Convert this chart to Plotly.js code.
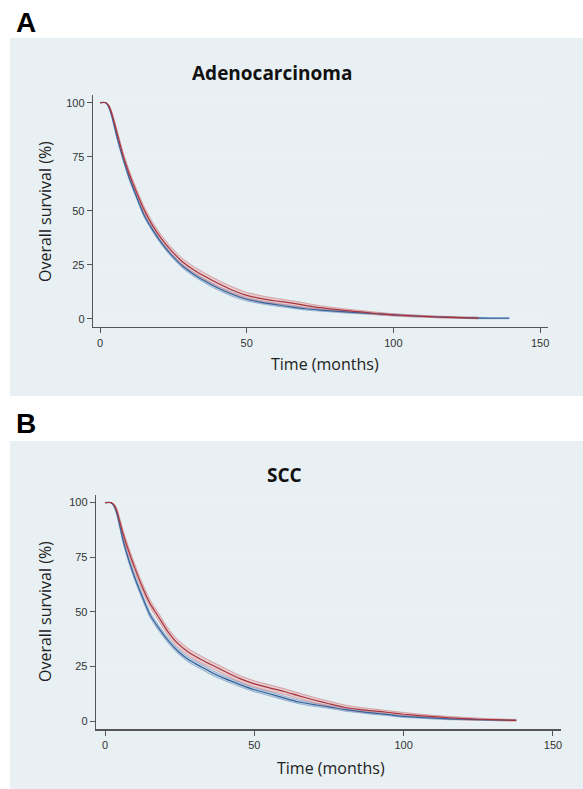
<!DOCTYPE html>
<html>
<head>
<meta charset="utf-8">
<script src="https://cdn.plot.ly/plotly-3.0.1.min.js"></script>
<style>html,body{margin:0;padding:0;background:#fff;}#chart{width:583px;height:789px;}</style>
</head>
<body>
<div id="chart"></div>
<script>
// ---- Panel A: Adenocarcinoma ----
const monthsA = [0,2,3,4,6,8,10,12,15,18,21,24,28,32,36,40,45,50,55,60,65,70,75,80,85,90,95,100,105,110,115,120,125,129];
const redA   = [100,100,98.5,95,85,75,67,60,50.5,43,37,32,26.5,22.6,19.4,16.5,13.3,10.8,9.3,8.2,7.3,6.2,5.1,4.3,3.6,3.0,2.3,1.8,1.4,1.1,0.8,0.6,0.4,0.3];
const redAHi = [100,100,99,96,86.4,76.5,68.5,61.5,52,44.5,38.5,33.5,28,24.1,20.9,18,14.8,12.2,10.6,9.4,8.4,7.2,6.0,5.1,4.3,3.6,2.9,2.3,1.9,1.5,1.2,1.0,0.8,0.7];
const redALo = [100,100,98,94,83.6,73.5,65.5,58.5,49,41.5,35.5,30.5,25,21.1,17.9,15,11.8,9.4,8.0,7.0,6.2,5.2,4.2,3.5,2.9,2.4,1.7,1.3,0.9,0.7,0.4,0.2,0.1,0.0];
const monthsABlue = [0,2,3,4,6,8,10,12,15,18,21,24,28,32,36,40,45,50,55,60,65,70,75,80,85,90,95,100,105,110,115,120,125,129,133,139.5];
const blueA   = [100,100,98,94,83,73.5,65,58,48,41,35,30,24.5,20.5,17.2,14.3,11.3,9.0,7.6,6.5,5.5,4.6,4.0,3.5,3.0,2.6,2.2,1.8,1.4,1.1,0.8,0.6,0.4,0.3,0.2,0.2];
const blueAHi = [100,100,98.5,94.9,83.9,74.4,65.9,58.9,48.9,41.9,35.9,30.9,25.4,21.4,18.1,15.2,12.2,9.8,8.3,7.2,6.1,5.2,4.5,4.0,3.5,3.0,2.6,2.2,1.8,1.4,1.1,0.9,0.7,0.6,0.5,0.5];
const blueALo = [100,100,97.5,93.1,82.1,72.6,64.1,57.1,47.1,40.1,34.1,29.1,23.6,19.6,16.3,13.4,10.4,8.2,6.9,5.8,4.9,4.0,3.5,3.0,2.5,2.2,1.8,1.4,1.0,0.8,0.5,0.3,0.1,0.0,0.0,0.0];

// ---- Panel B: SCC ----
const monthsB = [0,2,3,4,6,8,10,12,15,18,21,24,28,32,36,40,45,50,55,60,65,70,75,80,85,90,95,100,105,110,115,120,125,130,135,137.7];
const redB   = [100,100,99,96,86,77.5,70,63,54,47.5,41,36,31.5,28.3,25.5,22.8,19.5,17,15.2,13.5,11.5,9.6,7.9,6.3,5.3,4.6,3.9,3.1,2.5,2.0,1.5,1.1,0.8,0.6,0.4,0.3];
const redBHi = [100,100,99.5,97.2,87.6,79.2,71.7,64.7,55.7,49.2,42.7,37.7,33.1,29.9,27.0,24.3,20.9,18.4,16.6,14.8,12.8,10.8,9.1,7.4,6.3,5.5,4.7,3.9,3.2,2.6,2.1,1.7,1.3,1.0,0.8,0.7];
const redBLo = [100,100,98.5,94.8,84.4,75.8,68.3,61.3,52.3,45.8,39.3,34.3,29.9,26.7,24.0,21.3,18.1,15.6,13.8,12.2,10.2,8.4,6.7,5.2,4.3,3.7,3.1,2.3,1.8,1.4,0.9,0.5,0.3,0.2,0.0,0.0];
const blueB   = [100,100,98.5,95,83,73.5,65.5,58.5,48.8,42.5,37,32.5,28,25,22,19.5,16.8,14.3,12.5,10.5,8.7,7.5,6.5,5.3,4.4,3.6,2.9,2.1,1.7,1.3,1.0,0.8,0.6,0.45,0.35,0.3];
const blueBHi = [100,100,99,96,84.2,74.7,66.7,59.7,50,43.7,38.1,33.6,29.1,26.1,23.1,20.5,17.8,15.2,13.4,11.4,9.5,8.3,7.2,6.0,5.0,4.2,3.4,2.6,2.1,1.7,1.4,1.1,0.9,0.7,0.6,0.5];
const blueBLo = [100,100,98,94,81.8,72.3,64.3,57.3,47.6,41.3,35.9,31.4,26.9,23.9,20.9,18.5,15.8,13.4,11.6,9.6,7.9,6.7,5.8,4.6,3.8,3.0,2.4,1.6,1.3,0.9,0.6,0.5,0.3,0.2,0.1,0.1];

const xTicks = [0,50,100,150];
const yTicks = [0,25,50,75,100];
const panelTitles = ["Adenocarcinoma","SCC"];
const panelLetters = ["A","B"];
const xTitle = "Time (months)";
const yTitle = "Overall survival (%)";

const RED = "#a8333b", BLUE = "#35629a";
const RED_BAND = "rgba(226,170,175,0.5)", BLUE_BAND = "rgba(150,180,212,0.5)";
const RED_EDGE = "rgba(205,135,140,0.9)", BLUE_EDGE = "rgba(125,158,198,0.9)";
const SH = {shape:"spline", smoothing:0.6};

function band(x, hi, lo, fill, edge, xa, ya){
  return [
    {x:x, y:hi, xaxis:xa, yaxis:ya, mode:"lines", line:Object.assign({color:edge, width:0.8}, SH), hoverinfo:"skip", showlegend:false},
    {x:x, y:lo, xaxis:xa, yaxis:ya, mode:"lines", fill:"tonexty", fillcolor:fill, line:Object.assign({color:edge, width:0.8}, SH), hoverinfo:"skip", showlegend:false}
  ];
}
function main(x, y, color, xa, ya){
  return {x:x, y:y, xaxis:xa, yaxis:ya, mode:"lines", line:Object.assign({color:color, width:1.2}, SH), showlegend:false};
}

const traces = [].concat(
  band(monthsABlue, blueAHi, blueALo, BLUE_BAND, BLUE_EDGE, "x", "y"),
  band(monthsA, redAHi, redALo, RED_BAND, RED_EDGE, "x", "y"),
  [main(monthsABlue, blueA, BLUE, "x", "y"), main(monthsA, redA, RED, "x", "y")],
  band(monthsB, blueBHi, blueBLo, BLUE_BAND, BLUE_EDGE, "x2", "y2"),
  band(monthsB, redBHi, redBLo, RED_BAND, RED_EDGE, "x2", "y2"),
  [main(monthsB, blueB, BLUE, "x2", "y2"), main(monthsB, redB, RED, "x2", "y2")]
);

const W = 583, H = 789;
const px = v => v / W, py = v => 1 - v / H;

const tickFont = {family:"Liberation Sans, Arial, sans-serif", size:11, color:"#333"};
function xax(dom, rng, anchor){
  return {domain:dom, range:rng, anchor:anchor, tickvals:xTicks, ticks:"outside", ticklen:5, tickcolor:"#555", tickwidth:1,
    showline:true, linecolor:"#555", linewidth:1.3, showgrid:false, zeroline:false, tickfont:tickFont, fixedrange:true};
}
function yax(dom, rng, anchor){
  return {domain:dom, range:rng, anchor:anchor, tickvals:yTicks, ticks:"outside", ticklen:5, tickcolor:"#555", tickwidth:1,
    showline:true, linecolor:"#555", linewidth:1.3, showgrid:true, gridcolor:"#edf3f5", gridwidth:1, zeroline:false, tickfont:tickFont, fixedrange:true};
}

const titleFont = {family:"Open Sans, sans-serif", size:19, color:"#111", weight:700};
const axFont = {family:"Open Sans, sans-serif", size:16, color:"#222"};
const letterFont = {family:"Liberation Sans, Arial, sans-serif", size:28, color:"#000", weight:700};

const layout = {
  width:W, height:H, autosize:false,
  margin:{l:0, r:0, t:0, b:0, pad:0},
  paper_bgcolor:"#ffffff", plot_bgcolor:"#ffffff",
  showlegend:false,
  xaxis: xax([px(93), px(548)], [-2.39, 152.7], "y"),
  yaxis: yax([py(327), py(95)], [-3.84, 103.56], "x"),
  xaxis2: xax([px(96), px(560.7)], [-3.02, 152.6], "y2"),
  yaxis2: yax([py(729.3), py(495)], [-3.8, 103.5], "x2"),
  shapes:[
    {type:"rect", xref:"paper", yref:"paper", x0:px(10), x1:1, y0:py(396), y1:py(38), fillcolor:"#e8f0f3", line:{width:0}, layer:"below"},
    {type:"rect", xref:"paper", yref:"paper", x0:px(10), x1:1, y0:0, y1:py(441), fillcolor:"#e8f0f3", line:{width:0}, layer:"below"}
  ],
  annotations:[
    {text:panelLetters[0], xref:"paper", yref:"paper", x:px(14), y:py(23), xanchor:"left", yanchor:"middle", showarrow:false, font:letterFont},
    {text:panelLetters[1], xref:"paper", yref:"paper", x:px(14), y:py(423), xanchor:"left", yanchor:"middle", showarrow:false, font:letterFont},
    {text:panelTitles[0], xref:"paper", yref:"paper", x:px(272), y:py(73), xanchor:"center", yanchor:"middle", showarrow:false, font:titleFont},
    {text:panelTitles[1], xref:"paper", yref:"paper", x:px(284), y:py(475), xanchor:"center", yanchor:"middle", showarrow:false, font:titleFont},
    {text:xTitle, xref:"paper", yref:"paper", x:px(325), y:py(364), xanchor:"center", yanchor:"middle", showarrow:false, font:axFont},
    {text:xTitle, xref:"paper", yref:"paper", x:px(331), y:py(768), xanchor:"center", yanchor:"middle", showarrow:false, font:axFont},
    {text:yTitle, xref:"paper", yref:"paper", x:px(45), y:py(212), xanchor:"center", yanchor:"middle", textangle:-90, showarrow:false, font:axFont},
    {text:yTitle, xref:"paper", yref:"paper", x:px(45), y:py(612), xanchor:"center", yanchor:"middle", textangle:-90, showarrow:false, font:axFont}
  ]
};

Plotly.newPlot("chart", traces, layout, {displayModeBar:false, staticPlot:true});
</script>
</body>
</html>
